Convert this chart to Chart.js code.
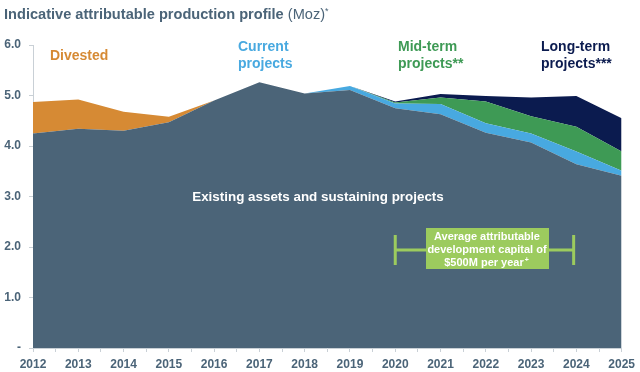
<!DOCTYPE html>
<html>
<head>
<meta charset="utf-8">
<script src="https://cdn.jsdelivr.net/npm/chart.js@4/dist/chart.umd.min.js"></script>
<style>
  html, body { margin: 0; padding: 0; background: #fff; }
  #wrap { width: 640px; height: 372px; position: relative; }
</style>
</head>
<body>
<div id="wrap"><canvas id="grafico"></canvas></div>
<script>
// years on the x axis
const anios = [2012, 2013, 2014, 2015, 2016, 2017, 2018, 2019, 2020, 2021, 2022, 2023, 2024, 2025];
// Moz per layer (stacked on top of each other)
const existentes = [4.25, 4.34, 4.30, 4.47, 4.90, 5.26, 5.04, 5.11, 4.75, 4.63, 4.26, 4.07, 3.64, 3.41];
const aniosDesinvertidos = [2012, 2013, 2014, 2015, 2016];
const desinvertidos = [0.62, 0.58, 0.38, 0.11, 0];
const aniosProyectos = [2018, 2019, 2020, 2021, 2022, 2023, 2024, 2025];
const actuales = [0, 0.08, 0.09, 0.20, 0.19, 0.18, 0.25, 0.10];
const aniosPlazo = [2019, 2020, 2021, 2022, 2023, 2024, 2025];
const medianoPlazo = [0, 0.02, 0.13, 0.43, 0.34, 0.49, 0.38];
const largoPlazo = [0, 0.02, 0.07, 0.11, 0.37, 0.61, 0.66];
const etiquetasY = ['-', '1.0', '2.0', '3.0', '4.0', '5.0', '6.0'];

const colorPizarra = '#4b6478';
const colorNaranja = '#d68a34';
const colorCeleste = '#48a9e0';
const colorVerde = '#3e9a55';
const colorMarino = '#0b1b4f';
const colorCaja = '#9ccb5e';

function puntos(xs, ys) {
    return xs.map((x, i) => ({x: x, y: ys[i]}));
}

function capa(nombre, xs, ys, color, relleno) {
    return {
        label: nombre,
        data: puntos(xs, ys),
        backgroundColor: color,
        borderColor: color,
        borderWidth: 0,
        pointRadius: 0,
        tension: 0,
        fill: relleno
    };
}

const fuente = '"Liberation Sans", Arial, Helvetica, sans-serif';

const anotaciones = {
    id: 'anotaciones',
    afterDraw(chart) {
        const ctx = chart.ctx;
        const x = chart.scales.x;
        const y = chart.scales.y;
        ctx.save();
        ctx.textBaseline = 'middle';
        // title
        ctx.textAlign = 'left';
        ctx.fillStyle = colorPizarra;
        ctx.font = 'bold 14.6px ' + fuente;
        const titulo = 'Indicative attributable production profile';
        ctx.fillText(titulo, 4, 15);
        let w = ctx.measureText(titulo).width;
        ctx.font = '14.6px ' + fuente;
        ctx.fillText(' (Moz)', 4 + w, 15);
        w += ctx.measureText(' (Moz)').width;
        ctx.font = '9px ' + fuente;
        ctx.fillText('*', 4 + w, 12);

        // series labels
        ctx.font = 'bold 14px ' + fuente;
        ctx.fillStyle = colorNaranja;
        ctx.fillText('Divested', 50, 56);
        ctx.fillStyle = colorCeleste;
        ctx.fillText('Current', 238, 47);
        ctx.fillText('projects', 238, 64);
        ctx.fillStyle = colorVerde;
        ctx.fillText('Mid-term', 398, 47);
        ctx.fillText('projects**', 398, 64);
        ctx.fillStyle = colorMarino;
        ctx.fillText('Long-term', 541, 47);
        ctx.fillText('projects***', 541, 64);

        ctx.fillStyle = '#ffffff';
        ctx.textAlign = 'center';
        ctx.font = 'bold 13.4px ' + fuente;
        ctx.fillText('Existing assets and sustaining projects', 318, 197);

        // capital bracket
        const x1 = x.getPixelForValue(2020);
        const x2 = x.getPixelForValue(2023.94);
        const yc = y.getPixelForValue(1.94);
        ctx.strokeStyle = colorCaja;
        ctx.lineWidth = 3;
        ctx.beginPath();
        ctx.moveTo(x1, yc); ctx.lineTo(x2, yc);
        ctx.moveTo(x1, yc - 15); ctx.lineTo(x1, yc + 15);
        ctx.moveTo(x2, yc - 15); ctx.lineTo(x2, yc + 15);
        ctx.stroke();
        ctx.fillStyle = colorCaja;
        ctx.fillRect(426, 228, 123, 41);
        ctx.fillStyle = '#ffffff';
        ctx.font = 'bold 11px ' + fuente;
        ctx.fillText('Average attributable', 487, 237);
        ctx.fillText('development capital of', 487, 250);
        ctx.fillText('$500M per year', 484, 263);
        const w2 = ctx.measureText('$500M per year').width;
        ctx.font = 'bold 7px ' + fuente;
        ctx.fillText('+', 484 + w2 / 2 + 3, 260);
        ctx.restore();
    }
};

new Chart(document.getElementById('grafico').getContext('2d'), {
    type: 'line',
    data: {
        datasets: [
            capa('Existing assets and sustaining projects', anios, existentes, colorPizarra, 'origin'),
            capa('Divested', aniosDesinvertidos, desinvertidos, colorNaranja, '-1'),
            capa('Current projects', aniosProyectos, actuales, colorCeleste, 0),
            capa('Mid-term projects', aniosPlazo, medianoPlazo, colorVerde, '-1'),
            capa('Long-term projects', aniosPlazo, largoPlazo, colorMarino, '-1')
        ]
    },
    options: {
        responsive: true,
        maintainAspectRatio: false,
        animation: false,
        layout: { padding: { top: 45, right: 16, left: 0, bottom: 0 } },
        plugins: {
            legend: { display: false },
            tooltip: { enabled: false },
            title: { display: false }
        },
        scales: {
            x: {
                type: 'linear',
                min: 2012,
                max: 2025,
                ticks: {
                    stepSize: 0.5,
                    autoSkip: false,
                    maxRotation: 0,
                    padding: 5,
                    color: colorPizarra,
                    font: { family: fuente, size: 12, weight: 'bold' },
                    callback: v => Number.isInteger(v) ? String(v) : ''
                },
                grid: { drawOnChartArea: false, drawTicks: true, tickLength: 4, color: '#c9d0d6' },
                border: { color: '#c9d0d6' },
                afterFit: s => { s.height = 24; }
            },
            y: {
                stacked: true,
                min: 0,
                max: 6,
                ticks: {
                    stepSize: 1,
                    padding: 8,
                    color: colorPizarra,
                    font: { family: fuente, size: 12, weight: 'bold' },
                    callback: v => etiquetasY[v]
                },
                grid: { drawOnChartArea: false, drawTicks: true, tickLength: 4, color: '#c9d0d6' },
                border: { color: '#c9d0d6' },
                afterFit: s => { s.width = 33; }
            }
        }
    },
    plugins: [anotaciones]
});
</script>
</body>
</html>
